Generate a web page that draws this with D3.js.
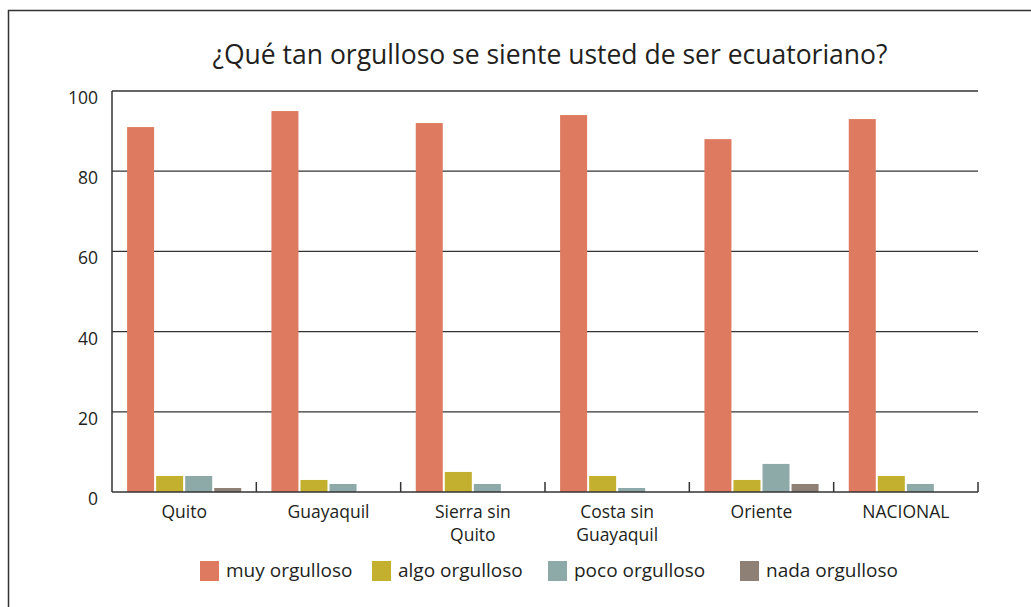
<!DOCTYPE html>
<html>
<head>
<meta charset="utf-8">
<script src="https://cdn.jsdelivr.net/npm/d3@7"></script>
<style>
  body { margin: 0; background: #fff; }
  svg text { font-family: "Open Sans", sans-serif; fill: #231f20; }
</style>
</head>
<body>
<svg id="chart" width="1031" height="607"></svg>
<script>
const categories = ["Quito", "Guayaquil", "Sierra sin Quito", "Costa sin Guayaquil", "Oriente", "NACIONAL"];
const categoryLines = [["Quito"], ["Guayaquil"], ["Sierra sin", "Quito"], ["Costa sin", "Guayaquil"], ["Oriente"], ["NACIONAL"]];
const seriesNames = ["muy orgulloso", "algo orgulloso", "poco orgulloso", "nada orgulloso"];
const muy = [91, 95, 92, 94, 88, 93];
const algo = [4, 3, 5, 4, 3, 4];
const poco = [4, 2, 2, 1, 7, 2];
const nada = [1, 0, 0, 0, 2, 0];
const yTicks = [0, 20, 40, 60, 80, 100];
const colors = ["#de7a5f", "#c2b02e", "#8daaa9", "#8e8074"];
const title = "¿Qué tan orgulloso se siente usted de ser ecuatoriano?";

const series = [muy, algo, poco, nada];
const rows = categories.map((c, i) => ({cat: c, values: series.map(s => s[i])}));

const svg = d3.select('#chart');

// outer frame
svg.append('rect')
    .attr('x', 8.5).attr('y', 10.5)
    .attr('width', 1030).attr('height', 620)
    .attr('fill', 'none').attr('stroke', '#333').attr('stroke-width', 1.5);

const plotLeft = 112, plotRight = 978, plotTop = 91, plotBottom = 492;

const x = d3.scaleBand().domain(categories).range([plotLeft, plotRight]).paddingInner(0).paddingOuter(0);
const xs = d3.scaleBand().domain(d3.range(4)).range([0, x.bandwidth()]).paddingInner(0.07).paddingOuter(0.52);
const y = d3.scaleLinear().domain([0, 100]).range([plotBottom, plotTop]);

svg.append('text')
    .attr('x', 550).attr('y', 64)
    .attr('text-anchor', 'middle')
    .style('font-size', '26.5px')
    .text(title);

// gridlines
svg.append('g').selectAll('line')
    .data(yTicks.filter(d => d > 0))
    .enter().append('line')
    .attr('x1', plotLeft).attr('x2', plotRight)
    .attr('y1', d => y(d)).attr('y2', d => y(d))
    .attr('stroke', '#333').attr('stroke-width', 1.3);

// y labels
svg.append('g').selectAll('text')
    .data(yTicks)
    .enter().append('text')
    .attr('x', 98).attr('y', d => y(d) + 13)
    .attr('text-anchor', 'end')
    .style('font-size', '17.5px')
    .text(d => d);

// bars
const groups = svg.append('g').selectAll('g')
    .data(rows)
    .enter().append('g')
    .attr('transform', d => `translate(${x(d.cat)},0)`);

groups.selectAll('rect')
    .data(d => d.values.map((v, k) => ({k: k, v: v})))
    .enter().append('rect')
    .attr('x', d => xs(d.k))
    .attr('width', xs.bandwidth())
    .attr('y', d => y(d.v))
    .attr('height', d => plotBottom - y(d.v))
    .attr('fill', d => colors[d.k]);

// axes
svg.append('line')
    .attr('x1', plotLeft).attr('x2', plotLeft).attr('y1', plotTop).attr('y2', plotBottom)
    .attr('stroke', '#333').attr('stroke-width', 1.5);
svg.append('line')
    .attr('x1', plotLeft).attr('x2', plotRight).attr('y1', plotBottom).attr('y2', plotBottom)
    .attr('stroke', '#333').attr('stroke-width', 1.5);
svg.append('g').selectAll('line')
    .data(categories)
    .enter().append('line')
    .attr('x1', d => x(d) + x.bandwidth()).attr('x2', d => x(d) + x.bandwidth())
    .attr('y1', plotBottom - 10).attr('y2', plotBottom)
    .attr('stroke', '#333').attr('stroke-width', 1.5);

// category labels
svg.append('g').selectAll('text')
    .data(categories)
    .enter().append('text')
    .attr('text-anchor', 'middle')
    .style('font-size', '17.5px')
    .each(function (d, i) {
        d3.select(this).selectAll('tspan')
            .data(categoryLines[i])
            .enter().append('tspan')
            .attr('x', x(d) + x.bandwidth() / 2)
            .attr('y', (t, j) => 518 + j * 23)
            .text(t => t);
    });

// legend
const legendX = [200, 372, 548, 740];
const legend = svg.append('g').selectAll('g')
    .data(seriesNames)
    .enter().append('g')
    .attr('transform', (d, i) => `translate(${legendX[i]},561)`);
legend.append('rect')
    .attr('width', 19).attr('height', 20)
    .attr('fill', (d, i) => colors[i]);
legend.append('text')
    .attr('x', 26).attr('y', 16)
    .style('font-size', '19px')
    .text(d => d);
</script>
</body>
</html>
